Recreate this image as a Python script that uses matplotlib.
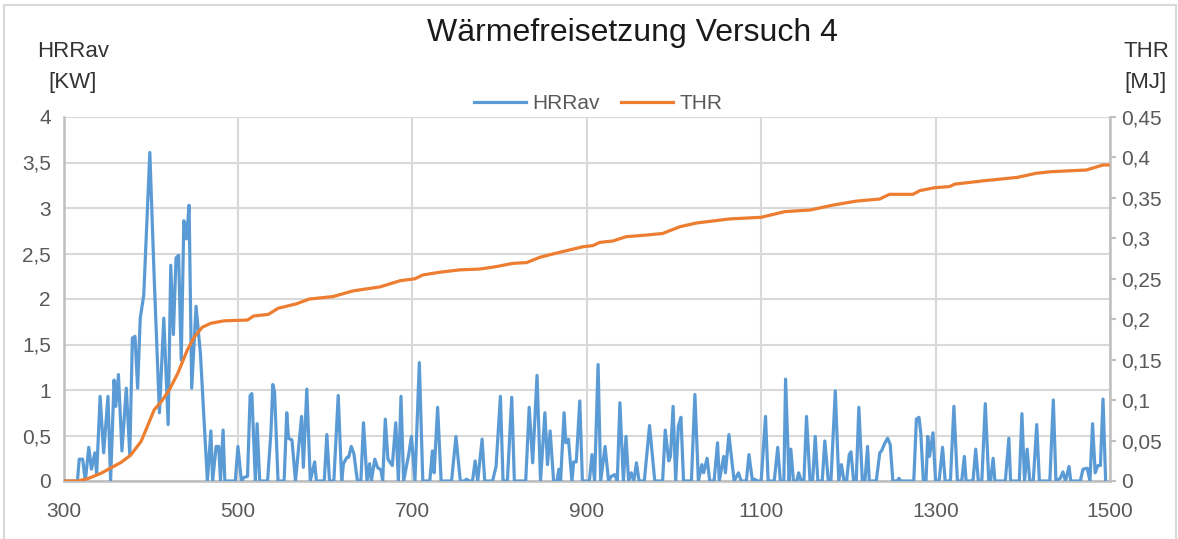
import matplotlib.pyplot as plt
from matplotlib.patches import Rectangle

zeit_hrr = [300, 316, 318, 322, 325, 329, 332, 336, 338, 342, 346, 351, 354, 358, 360, 363, 367, 372, 376, 379,
            382, 385, 388, 392, 399, 404, 410, 415, 420, 423, 426, 429, 432, 435, 438, 441, 444, 447, 452, 457,
            465, 469, 471, 475, 478, 480, 483, 485, 497, 500, 504, 507, 511, 514, 516, 520, 522, 525, 534, 538,
            540, 542, 546, 553, 556, 558, 562, 566, 573, 575, 579, 583, 588, 590, 599, 602, 605, 610, 615, 619,
            621, 625, 627, 630, 633, 637, 641, 644, 648, 651, 653, 657, 660, 664, 666, 669, 672, 677, 681, 684,
            687, 690, 696, 699, 703, 708, 712, 720, 723, 725, 729, 733, 745, 750, 755, 760, 762, 765, 769, 772,
            775, 780, 783, 792, 796, 801, 804, 809, 814, 817, 830, 834, 838, 843, 847, 852, 855, 858, 862, 866,
            868, 870, 874, 876, 879, 883, 885, 888, 892, 895, 903, 906, 909, 913, 916, 921, 925, 928, 932, 935,
            938, 942, 945, 948, 951, 954, 957, 960, 966, 972, 978, 987, 990, 994, 996, 999, 1002, 1005, 1008, 1011,
            1020, 1024, 1028, 1032, 1034, 1038, 1041, 1046, 1050, 1052, 1057, 1059, 1063, 1069, 1074, 1077, 1083, 1086, 1090, 1092,
            1096, 1100, 1105, 1108, 1115, 1119, 1122, 1126, 1128, 1132, 1134, 1137, 1141, 1143, 1146, 1149, 1152, 1156, 1159, 1162,
            1165, 1170, 1173, 1177, 1180, 1185, 1189, 1192, 1195, 1198, 1201, 1203, 1206, 1209, 1212, 1216, 1219, 1222, 1224, 1232,
            1236, 1238, 1242, 1245, 1248, 1251, 1256, 1258, 1260, 1275, 1278, 1281, 1283, 1286, 1289, 1291, 1293, 1297, 1300, 1304,
            1308, 1311, 1317, 1321, 1325, 1330, 1333, 1335, 1340, 1343, 1346, 1349, 1353, 1357, 1361, 1363, 1366, 1368, 1380, 1384,
            1386, 1396, 1399, 1402, 1405, 1408, 1412, 1416, 1419, 1431, 1435, 1438, 1443, 1446, 1449, 1453, 1455, 1466, 1469, 1474,
            1477, 1480, 1483, 1486, 1489, 1492, 1495]
hrrav = [0, 0, 0.24, 0.24, 0, 0.37, 0.13, 0.31, 0.07, 0.93, 0.31, 0.93, 0, 1.11, 0.82, 1.17, 0.33, 1.02, 0.29, 1.57,
         1.59, 1.02, 1.79, 2.04, 3.61, 2.23, 0.75, 1.79, 0.62, 2.37, 1.61, 2.45, 2.48, 1.33, 2.86, 2.66, 3.03, 1.02, 1.92, 1.4,
         0, 0.55, 0, 0.38, 0.38, 0, 0.56, 0, 0, 0.38, 0, 0.04, 0.05, 0.94, 0.96, 0, 0.63, 0, 0, 0.56,
         1.06, 0.98, 0, 0, 0.75, 0.47, 0.45, 0, 0.71, 0.15, 1.01, 0, 0.21, 0, 0, 0.51, 0, 0, 0.94, 0,
         0.19, 0.26, 0.26, 0.38, 0.3, 0, 0, 0.64, 0, 0.19, 0, 0.24, 0.15, 0.12, 0, 0.68, 0.24, 0.17, 0.64, 0,
         0.93, 0, 0.3, 0.49, 0, 1.3, 0, 0, 0.33, 0.09, 0.81, 0, 0, 0.49, 0, 0, 0.02, 0, 0, 0.22,
         0, 0.46, 0, 0, 0.16, 0.93, 0, 0, 0.92, 0, 0, 0.81, 0.2, 1.16, 0, 0.75, 0.18, 0.55, 0, 0,
         0.13, 0, 0.75, 0.42, 0.46, 0, 0.21, 0.21, 0.88, 0, 0, 0.29, 0, 1.28, 0, 0.38, 0, 0.05, 0.07, 0,
         0.86, 0, 0.49, 0, 0.09, 0, 0.2, 0, 0, 0.61, 0, 0, 0.56, 0.22, 0.27, 0.82, 0, 0.6, 0.7, 0,
         0, 0.95, 0, 0.18, 0.09, 0.25, 0, 0, 0.42, 0, 0.27, 0.09, 0.51, 0, 0.09, 0, 0, 0.29, 0, 0.02,
         0, 0, 0.71, 0, 0, 0.37, 0, 0, 1.12, 0, 0.35, 0, 0, 0.09, 0, 0, 0.71, 0, 0, 0.49,
         0, 0, 0.44, 0, 0, 0.99, 0, 0.18, 0, 0, 0.29, 0.32, 0, 0, 0.81, 0, 0, 0.38, 0, 0,
         0.31, 0.33, 0.42, 0.47, 0.4, 0, 0, 0.03, 0, 0, 0.68, 0.7, 0.53, 0, 0, 0.49, 0.27, 0.53, 0, 0,
         0.37, 0, 0, 0.82, 0, 0, 0.27, 0, 0, 0.01, 0.35, 0, 0, 0.85, 0, 0, 0.25, 0, 0, 0.47,
         0, 0, 0.74, 0, 0.35, 0, 0, 0.62, 0, 0, 0.89, 0, 0.03, 0.1, 0, 0.16, 0, 0, 0.13, 0.14,
         0, 0.63, 0.09, 0.17, 0.17, 0.9, 0]

# THR [MJ]
zeit_thr = [300, 316, 328, 343, 354, 366, 377, 389, 396, 404, 412, 421, 431, 442, 450, 459, 469, 484, 511, 518,
            535, 546, 567, 582, 609, 632, 663, 686, 703, 712, 731, 754, 777, 796, 815, 831, 846, 861, 880, 896,
            907, 915, 930, 945, 968, 987, 1007, 1026, 1064, 1100, 1127, 1156, 1182, 1209, 1236, 1247, 1274, 1282, 1299, 1316,
            1322, 1354, 1394, 1415, 1433, 1473, 1492, 1498]
thr = [0, 0, 0.003, 0.0095, 0.016, 0.023, 0.032, 0.049, 0.067, 0.088, 0.098, 0.112, 0.133, 0.162, 0.178, 0.19, 0.195, 0.198, 0.199, 0.204,
       0.206, 0.2135, 0.219, 0.225, 0.228, 0.235, 0.24, 0.2476, 0.25, 0.2547, 0.258, 0.261, 0.262, 0.265, 0.269, 0.27, 0.2765, 0.2806, 0.2856, 0.2897,
       0.291, 0.295, 0.2967, 0.302, 0.304, 0.306, 0.3144, 0.319, 0.324, 0.326, 0.333, 0.335, 0.341, 0.346, 0.3486, 0.3544, 0.3544, 0.359, 0.3626, 0.364,
       0.367, 0.371, 0.3754, 0.3804, 0.3824, 0.3845, 0.3907, 0.3907]

x_ticks = [300, 500, 700, 900, 1100, 1300, 1500]
links_ticks = [0, 0.5, 1, 1.5, 2, 2.5, 3, 3.5, 4]
rechts_ticks = [0, 0.05, 0.1, 0.15, 0.2, 0.25, 0.3, 0.35, 0.4, 0.45]

BLAU = '#5B9BD5'
ORANGE = '#ED7D31'
GRAU_TEXT = '#595959'
SCHRIFT = ['Liberation Sans', 'DejaVu Sans']


def komma(v):
    s = ('%.2f' % v).rstrip('0').rstrip('.')
    return s.replace('.', ',')


fig = plt.figure(figsize=(11.78, 5.39), dpi=100)
ax = fig.add_axes([63.5 / 1178, 1 - 481 / 539, (1110 - 63.5) / 1178, 364 / 539])
ax2 = ax.twinx()

l1, = ax.plot(zeit_hrr, hrrav, color=BLAU, lw=2.3, solid_joinstyle='round', label='HRRav', zorder=3)
l2, = ax2.plot(zeit_thr, thr, color=ORANGE, lw=2.3, solid_joinstyle='round', label='THR', zorder=3)

ax.set_xlim(300, 1500)
ax.set_ylim(0, 4)
ax2.set_ylim(0, 0.45)

ax.set_xticks(x_ticks)
ax.set_xticklabels([str(x) for x in x_ticks])
ax.set_yticks(links_ticks)
ax.set_yticklabels([komma(v) for v in links_ticks])
ax2.set_yticks(rechts_ticks)
ax2.set_yticklabels([komma(v) for v in rechts_ticks])

ax.grid(True, color='#d9d9d9', lw=1.5)
ax.set_axisbelow(True)

for a in (ax, ax2):
    a.spines['top'].set_visible(False)
    for s in ('left', 'bottom', 'right'):
        a.spines[s].set_color('#bfbfbf')
        a.spines[s].set_linewidth(1.8)
ax.spines['right'].set_visible(False)
ax2.spines['left'].set_visible(False)
ax2.spines['bottom'].set_visible(False)

ax.tick_params(axis='both', length=0, colors=GRAU_TEXT, labelsize=15)
ax.tick_params(axis='x', pad=15)
ax.tick_params(axis='y', pad=9)
ax2.tick_params(axis='y', length=4, width=1.5, colors=GRAU_TEXT, labelsize=15, pad=4)
ax2.tick_params(axis='y', color='#bfbfbf')
for lab in ax.get_xticklabels() + ax.get_yticklabels() + ax2.get_yticklabels():
    lab.set_family(SCHRIFT)

leg = ax.legend(handles=[l1, l2], loc='center', bbox_to_anchor=(0.511, 1.036), ncol=2, frameon=False,
                handlelength=2.5, columnspacing=1.0, handletextpad=0.3,
                prop={'family': SCHRIFT, 'size': 15})
for t in leg.get_texts():
    t.set_color(GRAU_TEXT)

fig.text(0.537, 0.939, 'Wärmefreisetzung Versuch 4', ha='center', va='center', fontsize=23,
         family=SCHRIFT, color='#1a1a1a')
fig.text(73 / 1178, 1 - 67 / 539, 'HRRav\n[KW]', ha='center', va='center', fontsize=16,
         family=SCHRIFT, color='#333333', linespacing=1.65)
fig.text(1146 / 1178, 1 - 67 / 539, 'THR\n[MJ]', ha='center', va='center', fontsize=16,
         family=SCHRIFT, color='#333333', linespacing=1.65)

fig.patches.append(Rectangle((4 / 1178, -0.01), 1172 / 1178, 1.01 - 5 / 539, transform=fig.transFigure,
                             fill=False, edgecolor='#d9d9d9', lw=1.5))

fig.savefig('out.png', dpi=100)
